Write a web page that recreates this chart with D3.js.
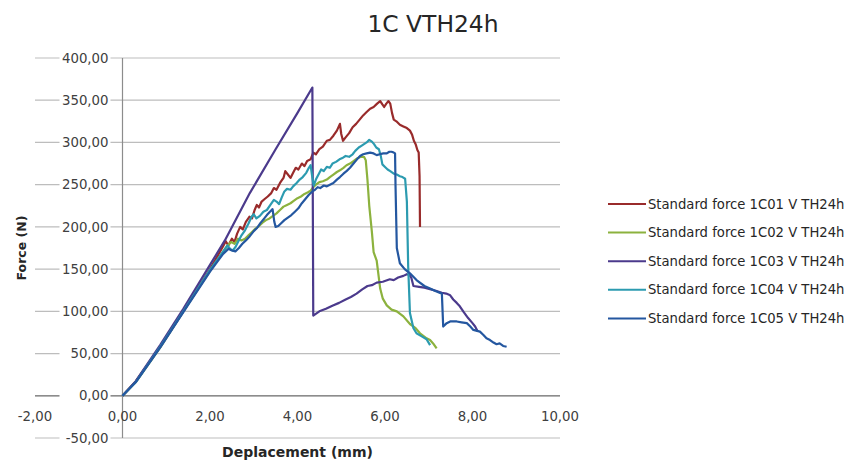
<!DOCTYPE html>
<html>
<head>
<meta charset="utf-8">
<script src="https://cdn.jsdelivr.net/npm/d3@7"></script>
<style>
  html, body { margin: 0; padding: 0; background: #fff; }
  svg { display: block; }
</style>
</head>
<body>
<svg id="chart" width="850" height="463"></svg>
<script>
// Force / displacement records, [deplacement (mm), force (N)]
const s1C01 = [[0,0],[0.3,17],[0.86,58],[1.39,100],[2.0,150],[2.3,177],[2.36,183],[2.42,178],[2.5,186],[2.56,182],[2.62,192],[2.69,200],[2.75,197],[2.82,206],[2.9,212],[2.96,210],[3.02,220],[3.07,226],[3.12,223],[3.18,230],[3.25,233],[3.32,236],[3.4,240],[3.46,246],[3.52,244],[3.6,252],[3.68,258],[3.72,266],[3.78,262],[3.84,258],[3.9,264],[3.96,270],[4.02,268],[4.1,275],[4.16,272],[4.22,278],[4.3,280],[4.36,288],[4.42,286],[4.5,292],[4.58,295],[4.67,302],[4.74,303],[4.82,308],[4.9,314],[4.97,322],[5.0,310],[5.04,302],[5.1,306],[5.18,311],[5.26,318],[5.34,322],[5.42,327],[5.5,332],[5.58,336],[5.66,340],[5.74,342],[5.82,346],[5.89,349],[5.94,345],[5.98,342],[6.03,346],[6.08,349],[6.12,346],[6.16,335],[6.2,327],[6.26,325],[6.34,321],[6.42,319],[6.5,317],[6.57,314],[6.62,309],[6.66,302],[6.7,298],[6.74,291],[6.77,288],[6.79,260],[6.8,200]];
const s1C02 = [[0,0],[0.3,16],[0.86,57],[1.39,100],[2.0,148],[2.4,178],[2.48,182],[2.56,180],[2.64,186],[2.72,184],[2.8,186],[2.88,190],[2.96,194],[3.04,198],[3.12,201],[3.2,205],[3.28,208],[3.36,210],[3.44,213],[3.52,216],[3.6,220],[3.68,224],[3.76,226],[3.84,228],[3.92,231],[4.0,234],[4.08,236],[4.16,239],[4.24,241],[4.3,243],[4.36,247],[4.42,250],[4.5,253],[4.58,254],[4.67,256],[4.74,259],[4.82,262],[4.9,265],[4.97,267],[5.05,270],[5.12,273],[5.2,275],[5.28,278],[5.36,281],[5.45,283],[5.52,283],[5.56,279],[5.6,255],[5.64,225],[5.7,194],[5.74,170],[5.81,160],[5.89,127],[5.95,115],[6.04,107],[6.15,102],[6.27,100],[6.42,94],[6.57,85],[6.7,80],[6.8,74],[6.95,68],[7.03,66],[7.1,62],[7.18,56]];
const s1C03 = [[0,0],[0.3,17],[0.86,60],[1.39,103],[2.0,155],[2.34,184],[2.91,240],[3.5,292],[4.0,335],[4.34,365],[4.36,95],[4.5,100],[4.65,103],[4.81,107],[4.95,110],[5.1,114],[5.22,117],[5.35,121],[5.48,126],[5.6,130],[5.7,131],[5.81,134],[5.95,135],[6.11,138],[6.2,137],[6.3,140],[6.42,142],[6.5,144],[6.56,143],[6.6,140],[6.65,130],[6.78,129],[6.9,128],[7.05,126],[7.18,124],[7.3,122],[7.4,121],[7.49,119],[7.56,114],[7.64,110],[7.71,106],[7.8,99],[7.9,92],[8.0,86],[8.06,82],[8.12,76]];
const s1C04 = [[0,0],[0.3,16],[0.86,58],[1.39,100],[2.0,149],[2.4,178],[2.46,174],[2.52,172],[2.58,176],[2.64,182],[2.72,190],[2.8,196],[2.88,204],[2.95,212],[3.0,215],[3.06,210],[3.14,213],[3.22,218],[3.3,220],[3.38,226],[3.46,232],[3.52,230],[3.58,227],[3.64,235],[3.7,242],[3.76,245],[3.84,244],[3.9,248],[3.98,252],[4.05,256],[4.12,259],[4.2,264],[4.26,270],[4.3,273],[4.34,258],[4.37,249],[4.42,256],[4.48,262],[4.54,268],[4.6,266],[4.67,271],[4.74,270],[4.8,275],[4.88,277],[4.96,280],[5.04,282],[5.1,284],[5.18,283],[5.26,286],[5.32,290],[5.4,294],[5.46,296],[5.52,298],[5.58,300],[5.64,303],[5.7,301],[5.75,298],[5.8,294],[5.86,292],[5.9,285],[5.94,274],[6.0,271],[6.06,268],[6.12,266],[6.2,263],[6.27,262],[6.34,260],[6.4,259],[6.46,257],[6.5,230],[6.53,153],[6.57,98],[6.65,80],[6.72,74],[6.85,70],[6.95,67],[7.03,60]];
const s1C05 = [[0,0],[0.3,16],[0.86,57],[1.39,99],[2.0,147],[2.3,168],[2.42,174],[2.5,172],[2.58,171],[2.66,175],[2.74,180],[2.82,184],[2.91,189],[3.0,195],[3.08,199],[3.16,205],[3.24,210],[3.3,214],[3.37,218],[3.43,221],[3.47,206],[3.5,200],[3.56,201],[3.62,204],[3.7,208],[3.78,211],[3.86,214],[3.94,218],[4.02,222],[4.1,228],[4.18,233],[4.26,238],[4.34,242],[4.4,244],[4.46,247],[4.52,246],[4.6,249],[4.67,248],[4.74,250],[4.82,252],[4.9,256],[4.97,259],[5.05,263],[5.12,266],[5.2,270],[5.28,275],[5.36,280],[5.43,284],[5.5,286],[5.58,287],[5.66,288],[5.74,287],[5.81,285],[5.88,286],[5.96,287],[6.04,287],[6.1,289],[6.15,289],[6.2,288],[6.23,287],[6.24,250],[6.27,175],[6.34,157],[6.45,150],[6.57,145],[6.72,137],[6.9,130],[7.03,127],[7.15,124],[7.3,121],[7.33,82],[7.41,86],[7.49,88],[7.64,88],[7.75,87],[7.87,86],[7.95,82],[8.02,78],[8.17,76],[8.25,72],[8.32,68],[8.4,66],[8.48,63],[8.55,61],[8.62,62],[8.7,59],[8.78,58]];

const seriesNames = ["Standard force 1C01 V TH24h","Standard force 1C02 V TH24h","Standard force 1C03 V TH24h","Standard force 1C04 V TH24h","Standard force 1C05 V TH24h"];
const seriesData = [s1C01, s1C02, s1C03, s1C04, s1C05];
const seriesColors = ["#992b2b","#8cb23e","#4b3a8c","#2c9bb0","#2457a0"];

const xTicks = [-2,0,2,4,6,8,10];
const yTicks = [-50,0,50,100,150,200,250,300,350,400];
const titleText = "1C VTH24h";
const xTitle = "Deplacement (mm)";
const yTitle = "Force (N)";

const fmt = v => d3.format(".2f")(v).replace(".", ",").replace("\u2212", "-");

const svg = d3.select("#chart");
const x = d3.scaleLinear().domain([-2, 10]).range([35, 560]);
const y = d3.scaleLinear().domain([-50, 400]).range([438, 58]);
const font = "'DejaVu Sans', sans-serif";

// horizontal gridlines
svg.append("g").selectAll("line").data(yTicks).join("line")
  .attr("x1", x(-2)).attr("x2", x(10))
  .attr("y1", d => y(d)).attr("y2", d => y(d))
  .attr("stroke", "#bdbdbd").attr("stroke-width", 1.2);

// vertical axis at x = 0, horizontal axis at y = 0
svg.append("line").attr("x1", x(0)).attr("x2", x(0)).attr("y1", y(400)).attr("y2", y(-50))
  .attr("stroke", "#8c8c8c").attr("stroke-width", 1.2);
svg.append("line").attr("x1", x(-2)).attr("x2", x(10)).attr("y1", y(0)).attr("y2", y(0))
  .attr("stroke", "#8c8c8c").attr("stroke-width", 1.4);

// y tick labels on a white backing
const yl = svg.append("g").selectAll("g").data(yTicks).join("g")
  .attr("transform", d => `translate(${x(0) - 14},${y(d)})`);
yl.append("rect").attr("x", -49).attr("y", -8).attr("width", 51).attr("height", 16).attr("fill", "#fff");
yl.append("text").attr("text-anchor", "end").attr("dy", "0.35em")
  .attr("font-family", font).attr("font-size", 13.3).attr("fill", "#404040")
  .text(fmt);

// x tick labels
svg.append("g").selectAll("text").data(xTicks).join("text")
  .attr("x", d => x(d)).attr("y", 421).attr("text-anchor", "middle")
  .attr("font-family", font).attr("font-size", 13.3).attr("fill", "#404040")
  .text(fmt);

// series
const line = d3.line().x(d => x(d[0])).y(d => y(d[1]));
svg.append("g").selectAll("path").data(seriesData).join("path")
  .attr("d", line).attr("fill", "none")
  .attr("stroke", (d, i) => seriesColors[i]).attr("stroke-width", 2.2)
  .attr("stroke-linejoin", "round");

// titles
svg.append("text").attr("x", 433).attr("y", 32).attr("text-anchor", "middle")
  .attr("font-family", font).attr("font-size", 23.4).attr("fill", "#262626").text(titleText);
svg.append("text").attr("x", x(4)).attr("y", 457).attr("text-anchor", "middle")
  .attr("font-family", font).attr("font-size", 14).attr("font-weight", "bold").attr("fill", "#262626").text(xTitle);
svg.append("text").attr("transform", `translate(26,${y(175)}) rotate(-90)`).attr("text-anchor", "middle")
  .attr("font-family", font).attr("font-size", 12.5).attr("font-weight", "bold").attr("fill", "#262626").text(yTitle);

// legend
const lg = svg.append("g").selectAll("g").data(seriesNames).join("g")
  .attr("transform", (d, i) => `translate(608,${204 + i * 28.6})`);
lg.append("line").attr("x1", 0).attr("x2", 38).attr("y1", 0).attr("y2", 0)
  .attr("stroke", (d, i) => seriesColors[i]).attr("stroke-width", 2);
lg.append("text").attr("x", 40).attr("dy", "0.35em")
  .attr("font-family", font).attr("font-size", 13.2).attr("fill", "#262626").text(d => d);
</script>
</body>
</html>
